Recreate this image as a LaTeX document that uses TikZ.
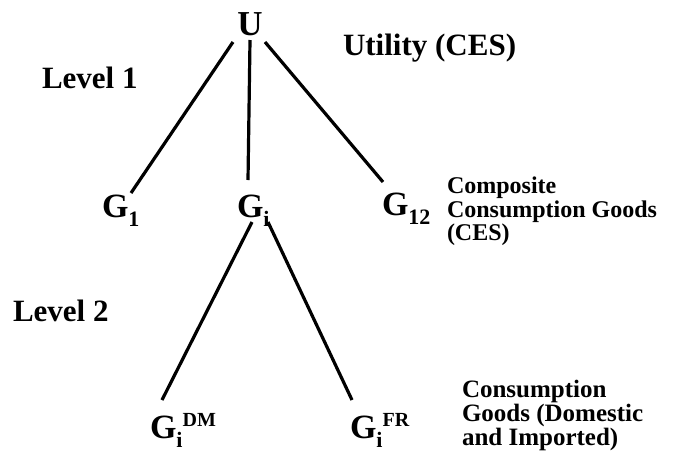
\documentclass[tikz,border=0pt]{standalone}
\usepackage{fontspec}
\setmainfont{Liberation Serif}
\newcommand\lowsub[1]{\raisebox{-9pt}{\fontsize{22}{22}\selectfont #1}}
\newcommand\highsup[1]{\raisebox{12pt}{\fontsize{20}{20}\selectfont #1}}
\begin{document}
\begin{tikzpicture}[x=1pt,y=-1pt,
  lab/.style={inner sep=0pt,outer sep=0pt,font=\bfseries\fontsize{31}{31}\selectfont},
  gnode/.style={inner sep=0pt,outer sep=0pt,anchor=base west,font=\bfseries\fontsize{34}{34}\selectfont},
  desc/.style={inner sep=0pt,outer sep=0pt,anchor=north west,align=left,font=\bfseries\fontsize{24}{23.5}\selectfont},
  edge/.style={line width=3.2pt}]
\useasboundingbox (0,0) rectangle (690,456);
\node[lab,anchor=base,font=\bfseries\fontsize{35}{35}\selectfont] (U) at (250,35) {U};
\node[lab,anchor=base west] (util) at (343,55) {Utility (CES)};
\node[lab,anchor=base west] (lev1) at (42,88) {Level 1};
\node[lab,anchor=base west] (lev2) at (13,321) {Level 2};
\node[gnode] (G1) at (102,217) {G\lowsub{1}};
\node[gnode] (Gi) at (237,217) {G\lowsub{i}};
\node[gnode] (G12) at (382,215) {G\lowsub{12}};
\node[desc] (comp) at (447,177) {Composite\\Consumption Goods\\(CES)};
\node[gnode] (GDM) at (150,438) {G\lowsub{i}\highsup{DM}};
\node[gnode] (GFR) at (350,438) {G\lowsub{i}\highsup{FR}};
\node[desc,font=\bfseries\fontsize{25}{24}\selectfont] (cons) at (462,380) {Consumption\\Goods (Domestic\\and Imported)};
\draw[edge] ([shift={(-17,7)}]U.base) -- ([shift={(29,-24)}]G1.base west);
\draw[edge] ([shift={(0,5)}]U.base) -- ([shift={(11,-37)}]Gi.base west);
\draw[edge] ([shift={(15,7)}]U.base) -- ([shift={(1,-33)}]G12.base west);
\draw[edge] ([shift={(15,5)}]Gi.base west) -- ([shift={(12,-38)}]GDM.base west);
\draw[edge] ([shift={(31,5)}]Gi.base west) -- ([shift={(2,-38)}]GFR.base west);
\end{tikzpicture}
\end{document}
